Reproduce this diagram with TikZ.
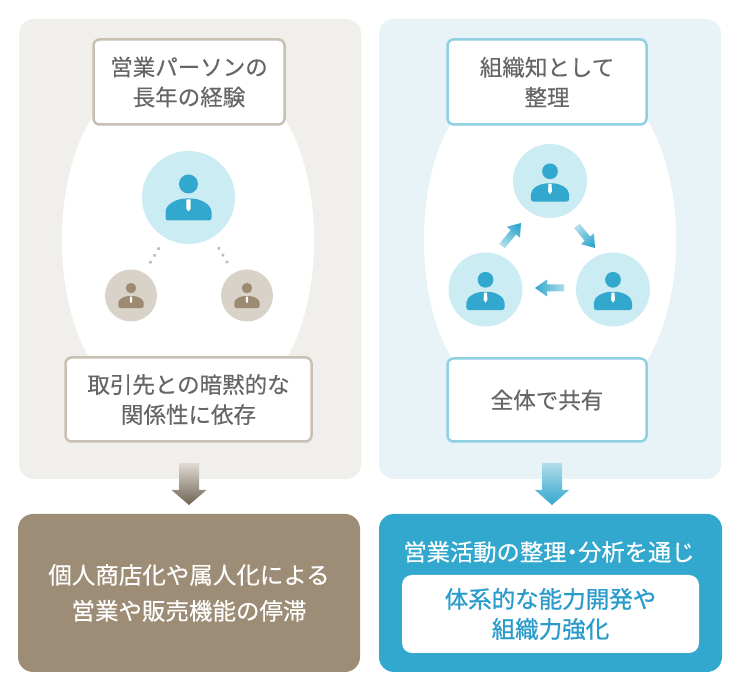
\documentclass[tikz,border=0pt]{standalone}
\usepackage{fontspec}
\newfontfamily\cjk{Noto Sans CJK JP}[FakeBold=0.3]
\newfontfamily\cjkb{Noto Sans CJK JP}[FakeBold=0.9]
\usetikzlibrary{calc}
\definecolor{lpanel}{HTML}{F1EFEC}
\definecolor{rpanel}{HTML}{E7F3F6}
\definecolor{lborder}{HTML}{C9C0B4}
\definecolor{rborder}{HTML}{8FD0E2}
\definecolor{lcyan}{HTML}{CCECF3}
\definecolor{pblue}{HTML}{33A8CF}
\definecolor{sbeige}{HTML}{D9D2C8}
\definecolor{pbrown}{HTML}{9C8A72}
\definecolor{dotc}{HTML}{C4BBAF}
\definecolor{txtgray}{HTML}{666666}
\definecolor{lres}{HTML}{9D8D76}
\definecolor{rres}{HTML}{33A8CF}
\definecolor{innertxt}{HTML}{2A9CCB}
\newcommand\fatarrow[6]{%
  \coordinate (fah) at ($(#3)!#6!(#2)$);
  \shade[#1] ($(#2)!#4!90:(#3)$) -- ($(fah)!#4!-90:(#2)$) -- ($(fah)!#5!-90:(#2)$) -- (#3) -- ($(fah)!#5!90:(#2)$) -- ($(fah)!#4!90:(#2)$) -- ($(#2)!#4!-90:(#3)$) -- cycle;
}
\tikzset{
  person/.pic={
    \fill (0,-13.5) circle (9.5);
    \fill[rounded corners=2.5] (-23,23) -- (-23,17) .. controls (-23,7) and (-12,1) .. (0,1) .. controls (12,1) and (23,7) .. (23,17) -- (23,23) -- cycle;
    \fill[white] (-2,2) -- (2,2) -- (2.2,11) -- (0,14) -- (-2.2,11) -- cycle;
  },
  panel/.style={rounded corners=15pt, inner sep=0pt, minimum width=342pt, minimum height=460pt},
  tbox/.style={line width=2.5pt, fill=white, rounded corners=6pt, align=center, text=txtgray, inner sep=0pt, font=\cjk\fontsize{22.5}{30}\selectfont},
  bigc/.style={circle, fill=lcyan, inner sep=0pt, minimum size=93pt},
  smallc/.style={circle, fill=sbeige, inner sep=0pt, minimum size=52pt},
  midc/.style={circle, fill=lcyan, inner sep=0pt, minimum size=74pt},
  dotline/.style={dotc, line width=3.6pt, line cap=round, dash pattern=on 0.01pt off 7.9pt, shorten <=12.5pt, shorten >=12.3pt},
  resbox/.style={rounded corners=15pt, inner sep=0pt, minimum width=342pt, minimum height=158pt, align=center, text=white},
}
\begin{document}
\begin{tikzpicture}[x=1pt,y=-1pt]
\useasboundingbox (0,0) rectangle (740,692);
\fill[white] (0,0) rectangle (740,692);
% panels
\node[panel, fill=lpanel] (lpanel) at (190,249) {};
\node[panel, fill=rpanel] (rpanel) at (550,249) {};
% ovals
\fill[white] (92,118) .. controls (52,180) and (52,300) .. (92,362) -- (284,362) .. controls (324,300) and (324,180) .. (284,118) -- cycle;
\fill[white] (454,118) .. controls (414,180) and (414,300) .. (454,362) -- (646,362) .. controls (686,300) and (686,180) .. (646,118) -- cycle;
% label boxes
\node[tbox, draw=lborder, minimum width=191pt, minimum height=85pt] (ltop) at (189,82) {営業パーソンの\\長年の経験};
\node[tbox, draw=lborder, minimum width=246pt, minimum height=84pt] (lbot) at (188.5,399.5) {取引先との暗黙的な\\関係性に依存};
\node[tbox, draw=rborder, minimum width=199pt, minimum height=85pt] (rtop) at (547,82) {組織知として\\整理};
\node[tbox, draw=rborder, minimum width=199pt, minimum height=83pt] (rbot) at (547,400) {全体で共有};
% left circles
\node[bigc] (lc) at (188.5,197.5) {};
\node[smallc] (ls1) at (131,295.5) {};
\node[smallc] (ls2) at (247,295.5) {};
\pic[color=pblue] at (lc) {person};
\pic[color=pbrown, scale=0.55] at (ls1) {person};
\pic[color=pbrown, scale=0.55] at (ls2) {person};
\draw[dotline] (lc) -- (ls1);
\draw[dotline] (lc) -- (ls2);
% right circles
\node[midc] (rc1) at (550,181) {};
\node[midc] (rc2) at (485.5,289.5) {};
\node[midc] (rc3) at (613,289.5) {};
\pic[color=pblue, scale=0.83] at ($(rc1)+(0,1.5)$) {person};
\pic[color=pblue, scale=0.83] at ($(rc2)+(0,1.5)$) {person};
\pic[color=pblue, scale=0.83] at ($(rc3)+(0,1.5)$) {person};
\coordinate (a1t) at (502,246); \coordinate (a1h) at (521,223);
\coordinate (a2t) at (577,226); \coordinate (a2h) at (595,248);
\coordinate (a3t) at (564,288); \coordinate (a3h) at (535,288);
\fatarrow{top color=pblue, bottom color=pblue!40!white, shading angle=-40}{a1t}{a1h}{3.5pt}{8.5pt}{12pt}
\fatarrow{top color=pblue, bottom color=pblue!40!white, shading angle=-140}{a2t}{a2h}{3.5pt}{8.5pt}{12pt}
\fatarrow{top color=pblue, bottom color=pblue!40!white, shading angle=90}{a3t}{a3h}{3.5pt}{8.5pt}{12pt}
% down arrows
\coordinate (lat) at (189,463); \coordinate (lah) at (189,505);
\coordinate (rat) at (552,463); \coordinate (rah) at (552,505);
\fatarrow{top color=lpanel!80!lres, bottom color=lres!70!black}{lat}{lah}{10pt}{17.5pt}{15pt}
\fatarrow{top color=rpanel!70!pblue, bottom color=pblue}{rat}{rah}{10pt}{17pt}{15pt}
% result boxes
\node[resbox, fill=lres, font=\cjk\fontsize{23.5}{36}\selectfont] (lresult) at (189,593) {個人商店化や属人化による\\営業や販売機能の停滞};
\node[resbox, fill=rres, minimum width=343pt] (rresult) at (550.5,593) {};
\node[text=white, inner sep=0pt, font=\cjk\fontsize{23.3}{27}\selectfont] (rtitle) at (549,552) {営業活動の整理\kern-0.25em・\kern-0.25em分析を通じ};
\node[fill=white, rounded corners=10pt, inner sep=0pt, minimum width=297pt, minimum height=78pt, align=center, text=innertxt, font=\cjkb\fontsize{23.5}{30}\selectfont] (rinner) at (550.5,614) {体系的な能力開発や\\組織力強化};
\end{tikzpicture}
\end{document}
